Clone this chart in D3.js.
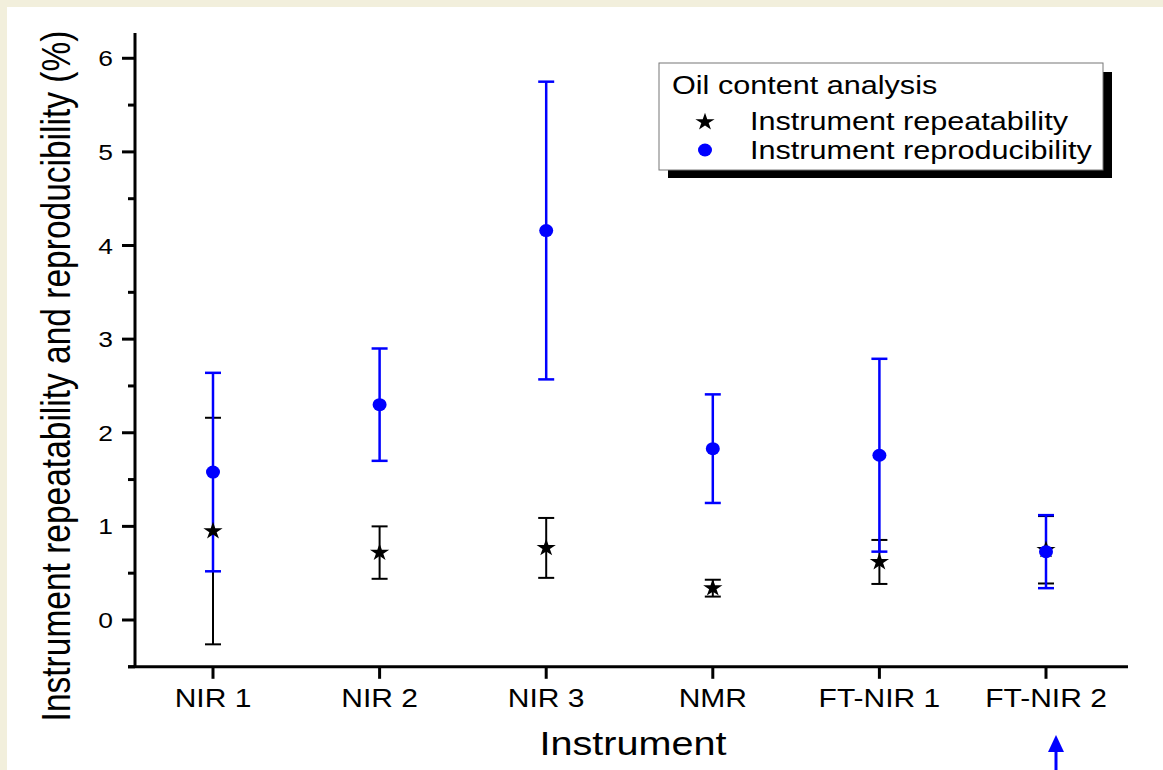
<!DOCTYPE html>
<html>
<head>
<meta charset="utf-8">
<script src="https://cdn.jsdelivr.net/npm/d3@7"></script>
<style>
  body { margin: 0; background: #f2efdc; }
  svg { display: block; font-family: "Liberation Sans", Arial, sans-serif; }
</style>
</head>
<body>
<script>
// data
const instruments = ["NIR 1", "NIR 2", "NIR 3", "NMR", "FT-NIR 1", "FT-NIR 2"];
const repeatMean = [0.95, 0.72, 0.77, 0.34, 0.62, 0.75];
const repeatErr  = [1.21, 0.28, 0.32, 0.09, 0.235, 0.36];
const reproMean  = [1.58, 2.30, 4.16, 1.83, 1.76, 0.73];
const reproErr   = [1.06, 0.60, 1.59, 0.58, 1.03, 0.39];
const yTicks = [0, 1, 2, 3, 4, 5, 6];
const yMinorTicks = [-0.5, 0.5, 1.5, 2.5, 3.5, 4.5, 5.5];

const W = 1163, H = 770;
const sx = 1.2; // the picture is stretched sideways

const svg = d3.select("body").append("svg")
    .attr("width", W)
    .attr("height", H);

// beige frame with white panel
svg.append("rect").attr("width", W).attr("height", H).attr("fill", "#f2efdc");
svg.append("rect").attr("x", 7).attr("y", 7).attr("width", W - 7).attr("height", H - 7).attr("fill", "#fff");

// scales
const x = d3.scalePoint()
    .domain(instruments)
    .range([213, 1046]);

const y = d3.scaleLinear()
    .domain([-0.5, 6.27])
    .range([666.8, 33]);

// stretched text helper
function label(g, tx, ty, txt, size, anchor, rot) {
    const t = g.append("text")
        .attr("transform", `translate(${tx},${ty})` + (rot ? ` rotate(${rot})` : "") + ` scale(${rot ? 1 : sx},${rot ? sx : 1})`)
        .attr("text-anchor", anchor)
        .style("font-size", size + "px")
        .attr("fill", "#000")
        .text(txt);
    return t;
}

// y axis
const yAxis = svg.append("g");
yAxis.append("line")
    .attr("x1", 135).attr("x2", 135)
    .attr("y1", y(6.27)).attr("y2", y(-0.5))
    .attr("stroke", "#000").attr("stroke-width", 3);
yAxis.selectAll(".major").data(yTicks).enter().append("line")
    .attr("x1", 122).attr("x2", 135)
    .attr("y1", d => y(d)).attr("y2", d => y(d))
    .attr("stroke", "#000").attr("stroke-width", 3);
yAxis.selectAll(".minor").data(yMinorTicks).enter().append("line")
    .attr("x1", 128).attr("x2", 135)
    .attr("y1", d => y(d)).attr("y2", d => y(d))
    .attr("stroke", "#000").attr("stroke-width", 3);
yTicks.forEach(d => label(yAxis, 113, y(d) + 8, d, 22, "end"));

// x axis
const xAxis = svg.append("g");
xAxis.append("line")
    .attr("x1", 128).attr("x2", 1128)
    .attr("y1", y(-0.5)).attr("y2", y(-0.5))
    .attr("stroke", "#000").attr("stroke-width", 3);
xAxis.selectAll(".tick").data(instruments).enter().append("line")
    .attr("x1", d => x(d)).attr("x2", d => x(d))
    .attr("y1", y(-0.5)).attr("y2", y(-0.5) + 12)
    .attr("stroke", "#000").attr("stroke-width", 3);
instruments.forEach(d => label(xAxis, x(d), 707, d, 25, "middle"));

// axis titles
label(svg, 633, 755, "Instrument", 33, "middle");
label(svg, 70, 376, "Instrument repeatability and reproducibility (%)", 33.5, "middle", -90);

// error bars
function errorBars(means, errs, color, width) {
    const g = svg.append("g");
    instruments.forEach((d, i) => {
        const lo = means[i] - errs[i], hi = means[i] + errs[i];
        g.append("line")
            .attr("x1", x(d)).attr("x2", x(d))
            .attr("y1", y(lo)).attr("y2", y(hi))
            .attr("stroke", color).attr("stroke-width", width);
        [lo, hi].forEach(v => g.append("line")
            .attr("x1", x(d) - 8).attr("x2", x(d) + 8)
            .attr("y1", y(v)).attr("y2", y(v))
            .attr("stroke", color).attr("stroke-width", width));
    });
}
errorBars(repeatMean, repeatErr, "#000", 2);
errorBars(reproMean, reproErr, "#0000ff", 2.5);

// stars for repeatability
svg.append("g").selectAll("path")
    .data(instruments)
    .enter()
    .append("path")
    .attr("d", d3.symbol().type(d3.symbolStar).size(95))
    .attr("transform", (d, i) => `translate(${x(d)},${y(repeatMean[i])}) scale(1.1,1)`)
    .attr("fill", "#000");

// dots for reproducibility
svg.append("g").selectAll("ellipse")
    .data(instruments)
    .enter()
    .append("ellipse")
    .attr("cx", d => x(d))
    .attr("cy", (d, i) => y(reproMean[i]))
    .attr("rx", 7).attr("ry", 6.5)
    .attr("fill", "#0000ff");

// legend
const lg = svg.append("g");
lg.append("rect")
    .attr("x", 668).attr("y", 72).attr("width", 444).attr("height", 106)
    .attr("fill", "#000");
lg.append("rect")
    .attr("x", 659).attr("y", 63).attr("width", 444).attr("height", 107)
    .attr("fill", "#fff").attr("stroke", "#777").attr("stroke-width", 1);
label(lg, 672, 94, "Oil content analysis", 25.5, "start");
lg.append("path")
    .attr("d", d3.symbol().type(d3.symbolStar).size(95))
    .attr("transform", "translate(705,122) scale(1.1,1)")
    .attr("fill", "#000");
label(lg, 750, 130, "Instrument repeatability", 25.5, "start");
lg.append("ellipse")
    .attr("cx", 705).attr("cy", 150).attr("rx", 7).attr("ry", 6.5)
    .attr("fill", "#0000ff");
label(lg, 750, 159, "Instrument reproducibility", 25.5, "start");

// blue arrow under FT-NIR 2
const ax = x("FT-NIR 2") + 10;
svg.append("line")
    .attr("x1", ax).attr("x2", ax)
    .attr("y1", 750).attr("y2", H)
    .attr("stroke", "#0000ff").attr("stroke-width", 3);
svg.append("path")
    .attr("d", `M${ax},735 L${ax - 8},752 L${ax + 8},752 Z`)
    .attr("fill", "#0000ff");
</script>
</body>
</html>
